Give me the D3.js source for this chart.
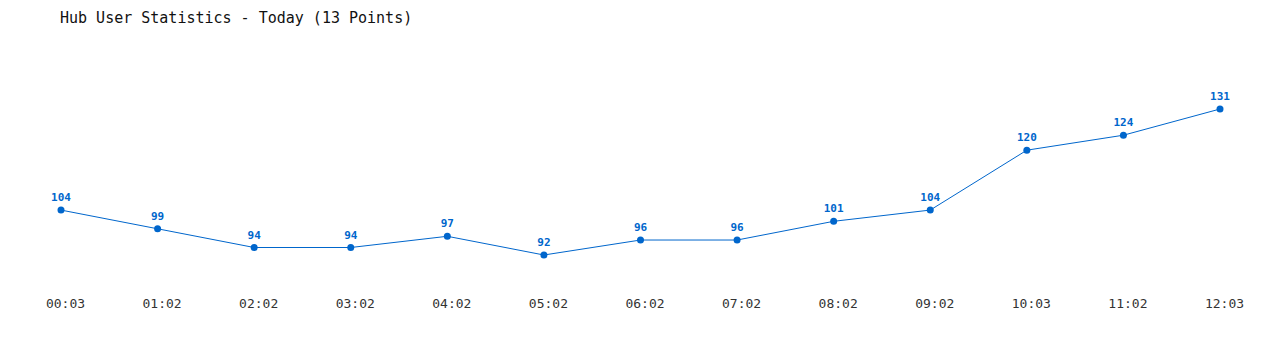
<!DOCTYPE html>
<html>
<head>
<meta charset="utf-8">
<script src="https://cdn.jsdelivr.net/npm/d3@7"></script>
<style>
  html, body { margin: 0; padding: 0; background: #fff; }
  svg { display: block; font-family: "DejaVu Sans Mono", "Liberation Mono", monospace; }
</style>
</head>
<body>
<div id="chart"></div>
<script>
// --- Chart data ---
const times = ["00:03", "01:02", "02:02", "03:02", "04:02", "05:02", "06:02",
               "07:02", "08:02", "09:02", "10:03", "11:02", "12:03"];
const users = [104, 99, 94, 94, 97, 92, 96, 96, 101, 104, 120, 124, 131];
const chartTitle = "Hub User Statistics - Today (13 Points)";

const totalWidth = 1280;
const totalHeight = 350;
const lineColor = "#0066cc";

const svg = d3.select("#chart")
  .append("svg")
  .attr("width", totalWidth)
  .attr("height", totalHeight);

// X scale: one slot per reading
const x = d3.scalePoint()
  .domain(times)
  .range([61, 1220]);

// Y scale: fitted to min/max of the data
const y = d3.scaleLinear()
  .domain([92, 131])
  .range([255, 109]);

// Title
svg.append("text")
  .attr("x", 60)
  .attr("y", 23)
  .attr("font-size", "15px")
  .attr("fill", "#111")
  .text(chartTitle);

// X axis (labels only, no lines)
const xAxis = svg.append("g")
  .attr("transform", "translate(4, 294)")
  .call(d3.axisBottom(x).tickSize(0).tickPadding(0));
xAxis.select(".domain").remove();
xAxis.selectAll(".tick text")
  .attr("dy", null)
  .attr("y", 14)
  .attr("font-family", "DejaVu Sans Mono, Liberation Mono, monospace")
  .attr("font-size", "13px")
  .attr("fill", "#333");

// Line
const line = d3.line()
  .x((d, i) => x(times[i]))
  .y((d) => y(d));

svg.append("path")
  .datum(users)
  .attr("fill", "none")
  .attr("stroke", lineColor)
  .attr("stroke-width", 1)
  .attr("d", line);

// Points
svg.append("g")
  .selectAll("circle")
  .data(users)
  .join("circle")
  .attr("cx", (d, i) => x(times[i]))
  .attr("cy", (d) => y(d))
  .attr("r", 3.5)
  .attr("fill", lineColor);

// Value labels
svg.append("g")
  .selectAll("text")
  .data(users)
  .join("text")
  .attr("x", (d, i) => x(times[i]))
  .attr("y", (d) => y(d) - 9)
  .attr("text-anchor", "middle")
  .attr("font-size", "11px")
  .attr("font-weight", "bold")
  .attr("fill", lineColor)
  .text((d) => d);
</script>
</body>
</html>
